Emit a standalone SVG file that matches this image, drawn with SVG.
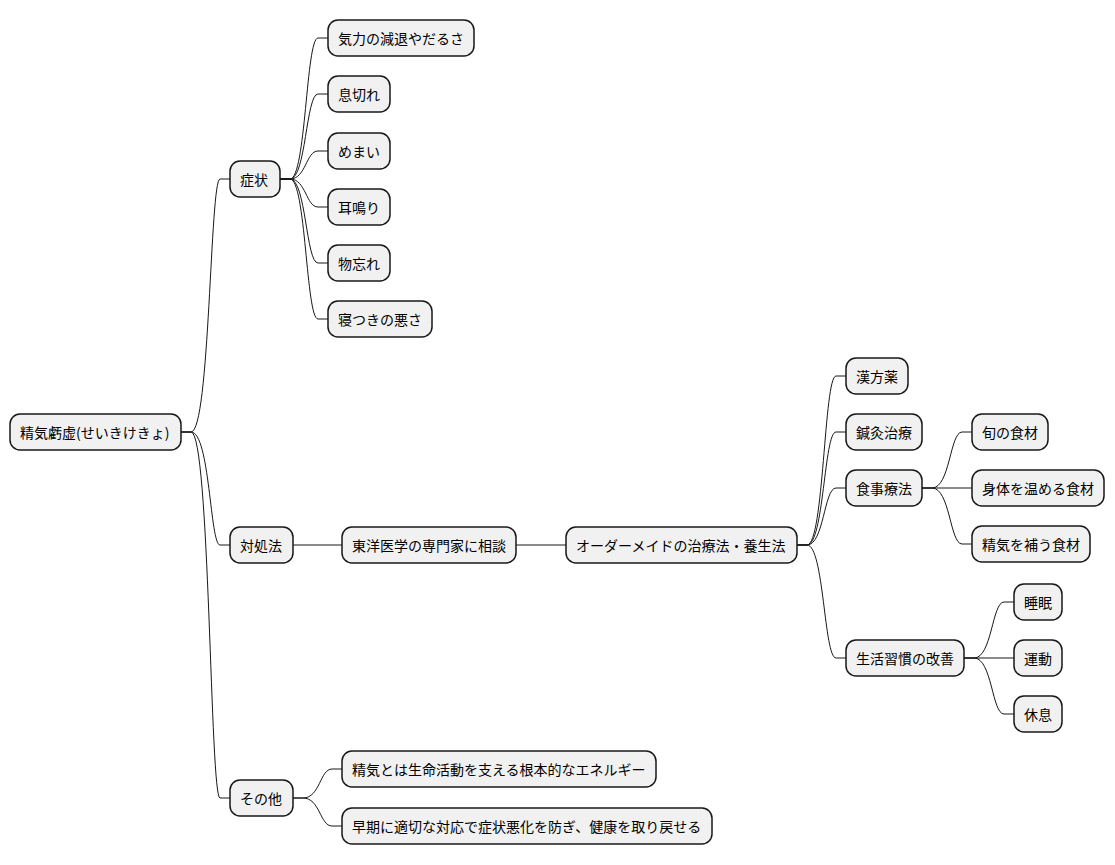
<svg xmlns="http://www.w3.org/2000/svg" width="1115" height="865" viewBox="0 0 1115 865">
<style>
.n rect{fill:#F1F1F1;stroke:#181818;stroke-width:1.5}
.n text{font-family:"Noto Sans CJK JP","Liberation Sans",sans-serif;font-size:14px;fill:#000;dominant-baseline:central}
.c path{fill:none;stroke:#181818;stroke-width:1}
</style>
<rect width="1115" height="865" fill="#fff"/>
<g class="c">
<path d="M181 432 L191 432 C210 432 210 179 220 179 L230 179"/>
<path d="M181 432 L191 432 C210 432 210 545 220 545 L230 545"/>
<path d="M181 432 L191 432 C210 432 210 798 220 798 L230 798"/>
<path d="M280 179 L290 179 C306 179 306 38 318 38 L328 38"/>
<path d="M280 179 L290 179 C306 179 306 94 318 94 L328 94"/>
<path d="M280 179 L290 179 C306 179 306 151 318 151 L328 151"/>
<path d="M280 179 L290 179 C306 179 306 207 318 207 L328 207"/>
<path d="M280 179 L290 179 C306 179 306 263 318 263 L328 263"/>
<path d="M280 179 L290 179 C306 179 306 319 318 319 L328 319"/>
<path d="M293 545 L342 545"/>
<path d="M516 545 L566 545"/>
<path d="M797 545 L807 545 C824 545 824 376 836 376 L846 376"/>
<path d="M797 545 L807 545 C824 545 824 432 836 432 L846 432"/>
<path d="M797 545 L807 545 C824 545 824 488 836 488 L846 488"/>
<path d="M797 545 L807 545 C824 545 824 658 836 658 L846 658"/>
<path d="M922 488 L932 488 C950 488 950 432 962 432 L972 432"/>
<path d="M922 488 L972 488"/>
<path d="M922 488 L932 488 C950 488 950 544 962 544 L972 544"/>
<path d="M964 658 L974 658 C992 658 992 602 1004 602 L1014 602"/>
<path d="M964 658 L1014 658"/>
<path d="M964 658 L974 658 C992 658 992 714 1004 714 L1014 714"/>
<path d="M293 798 L303 798 C320 798 320 769 332 769 L342 769"/>
<path d="M293 798 L303 798 C320 798 320 826 332 826 L342 826"/>
</g>
<g id="root" class="n"><rect x="10" y="414" width="171" height="36" rx="10"/><text x="20" y="432">精気虧虚(せいきけきょ)</text></g>
<g id="shojo" class="n"><rect x="230" y="161" width="50" height="36" rx="10"/><text x="240" y="179">症状</text></g>
<g id="s1" class="n"><rect x="328" y="20" width="146" height="36" rx="10"/><text x="338" y="38">気力の減退やだるさ</text></g>
<g id="s2" class="n"><rect x="328" y="76" width="62" height="36" rx="10"/><text x="338" y="94">息切れ</text></g>
<g id="s3" class="n"><rect x="328" y="133" width="62" height="36" rx="10"/><text x="338" y="151">めまい</text></g>
<g id="s4" class="n"><rect x="328" y="189" width="62" height="36" rx="10"/><text x="338" y="207">耳鳴り</text></g>
<g id="s5" class="n"><rect x="328" y="245" width="62" height="36" rx="10"/><text x="338" y="263">物忘れ</text></g>
<g id="s6" class="n"><rect x="328" y="301" width="104" height="36" rx="10"/><text x="338" y="319">寝つきの悪さ</text></g>
<g id="taisho" class="n"><rect x="230" y="527" width="63" height="36" rx="10"/><text x="240" y="545">対処法</text></g>
<g id="t1" class="n"><rect x="342" y="527" width="174" height="36" rx="10"/><text x="352" y="545">東洋医学の専門家に相談</text></g>
<g id="t2" class="n"><rect x="566" y="527" width="231" height="36" rx="10"/><text x="576" y="545">オーダーメイドの治療法・養生法</text></g>
<g id="k1" class="n"><rect x="846" y="358" width="62" height="36" rx="10"/><text x="856" y="376">漢方薬</text></g>
<g id="k2" class="n"><rect x="846" y="414" width="76" height="36" rx="10"/><text x="856" y="432">鍼灸治療</text></g>
<g id="k3" class="n"><rect x="846" y="470" width="76" height="36" rx="10"/><text x="856" y="488">食事療法</text></g>
<g id="f1" class="n"><rect x="972" y="414" width="76" height="36" rx="10"/><text x="982" y="432">旬の食材</text></g>
<g id="f2" class="n"><rect x="972" y="470" width="132" height="36" rx="10"/><text x="982" y="488">身体を温める食材</text></g>
<g id="f3" class="n"><rect x="972" y="526" width="118" height="36" rx="10"/><text x="982" y="544">精気を補う食材</text></g>
<g id="k4" class="n"><rect x="846" y="640" width="118" height="36" rx="10"/><text x="856" y="658">生活習慣の改善</text></g>
<g id="l1" class="n"><rect x="1014" y="584" width="48" height="36" rx="10"/><text x="1024" y="602">睡眠</text></g>
<g id="l2" class="n"><rect x="1014" y="640" width="48" height="36" rx="10"/><text x="1024" y="658">運動</text></g>
<g id="l3" class="n"><rect x="1014" y="696" width="48" height="36" rx="10"/><text x="1024" y="714">休息</text></g>
<g id="sonota" class="n"><rect x="230" y="780" width="63" height="36" rx="10"/><text x="240" y="798">その他</text></g>
<g id="o1" class="n"><rect x="342" y="751" width="314" height="36" rx="10"/><text x="352" y="769">精気とは生命活動を支える根本的なエネルギー</text></g>
<g id="o2" class="n"><rect x="342" y="808" width="370" height="36" rx="10"/><text x="352" y="826">早期に適切な対応で症状悪化を防ぎ、健康を取り戻せる</text></g>
</svg>
